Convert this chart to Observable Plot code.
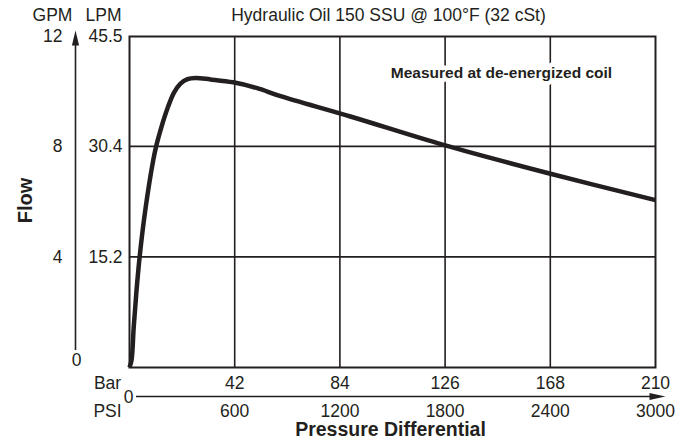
<!DOCTYPE html>
<html><head><meta charset="utf-8">
<script src="https://cdn.jsdelivr.net/npm/d3@7"></script>
<script src="https://cdn.jsdelivr.net/npm/@observablehq/plot@0.6"></script>
<style>
body{margin:0;background:#fff}
#chart svg{font-family:"Liberation Sans",Arial,Helvetica,sans-serif}
</style>
</head><body><div id="chart"></div>
<script>
// ---- data ----
const pressureBar = [0, 0.8, 1.68, 2.71, 3.99, 6.31, 9.5, 10.78, 12.77, 14.97, 17.76, 20.36, 23.15, 26.35, 32.3, 41.4, 51.0, 60.3, 88.2, 125.3, 167.3, 210];
const flowLpm     = [0, 0.97, 5.51, 10.2, 15.03, 21.65, 28.54, 30.6, 33.09, 35.43, 37.78, 39.02, 39.64, 39.8, 39.6, 39.2, 38.4, 37.3, 34.5, 30.6, 26.7, 23.0];
const barTicks = [42, 84, 126, 168, 210];
const psiTicks = [600, 1200, 1800, 2400, 3000];
const lpmTicks = [15.2, 30.4, 45.5];
const gpmTicks = [4, 8, 12];
const gpmMax = 12, lpmMax = 45.5, barMax = 210, psiMax = 3000;
const title = "Hydraulic Oil 150 SSU @ 100°F (32 cSt)";
const note = "Measured at de-energized coil";
const noteAt = {bar: 148.5, lpm: 40.5};

const ink = "#231f20";
const tickFont = 17.5;

const upHead = {draw(ctx){ ctx.moveTo(0,-7.5); ctx.lineTo(3.6,7.5); ctx.lineTo(-3.6,7.5); ctx.closePath(); }};
const rightHead = {draw(ctx){ ctx.moveTo(8,0); ctx.lineTo(-8,-3.6); ctx.lineTo(-8,3.6); ctx.closePath(); }};

const curve = pressureBar.map((p, i) => ({p, f: flowLpm[i]}));

const T = (extra) => Object.assign({fontSize: tickFont, fill: ink, textAnchor: "middle", lineAnchor: "middle"}, extra);

const chart = Plot.plot({
  width: 691, height: 440,
  marginLeft: 129, marginRight: 36, marginTop: 36, marginBottom: 73,
  x: {domain: [0, barMax], axis: null},
  y: {domain: [0, lpmMax], axis: null},
  style: {fontFamily: '"Liberation Sans", Arial, Helvetica, sans-serif', color: ink, background: "white"},
  marks: [
    Plot.ruleX(barTicks.slice(0, -1), {stroke: ink, strokeWidth: 1.6}),
    Plot.ruleY(lpmTicks.slice(0, -1), {stroke: ink, strokeWidth: 1.6}),
    Plot.text([note], T({x: () => noteAt.bar, y: () => noteAt.lpm, text: d => d, fontWeight: "bold", fontSize: 15.5, stroke: "white", strokeWidth: 9})),
    Plot.frame({stroke: ink, strokeWidth: 2}),
    Plot.line(curve, {x: "p", y: "f", stroke: ink, strokeWidth: 4.5, curve: "catmull-rom", strokeLinecap: "butt"}),
    // LPM labels
    Plot.text(lpmTicks, T({y: d => d, text: d => String(d), frameAnchor: "left", textAnchor: "end", dx: -7})),
    // GPM labels
    Plot.text(gpmTicks, T({y: d => d * lpmMax / gpmMax, text: d => String(d), frameAnchor: "left", textAnchor: "end", dx: -67})),
    Plot.text([0], T({text: d => String(d), frameAnchor: "bottom-left", dx: -53, dy: -7})),
    // headers
    Plot.text(["GPM"], T({text: d => d, frameAnchor: "top-left", dx: -77, dy: -21})),
    Plot.text(["LPM"], T({text: d => d, frameAnchor: "top-left", dx: -26, dy: -21})),
    Plot.text([title], T({text: d => d, frameAnchor: "top", dx: -4, dy: -21})),
    // vertical flow arrow
    Plot.ruleX([0], {dx: -54, insetTop: 8, insetBottom: 17, stroke: ink, strokeWidth: 1.6}),
    Plot.dot([0], {frameAnchor: "top-left", dx: -54, dy: 1.5, symbol: upHead, r: 4, fill: ink, stroke: "none"}),
    Plot.text(["Flow"], T({text: d => d, frameAnchor: "left", dx: -104, dy: -1.5, rotate: -90, fontWeight: "bold", fontSize: 20})),
    // horizontal pressure arrow
    Plot.ruleY([0], {dy: 29, insetLeft: 7, insetRight: -3, stroke: ink, strokeWidth: 1.6}),
    Plot.dot([0], {frameAnchor: "bottom-right", dx: 2, dy: 29, symbol: rightHead, r: 4, fill: ink, stroke: "none"}),
    Plot.text(barTicks, T({x: d => d, text: d => String(d), frameAnchor: "bottom", dy: 16})),
    Plot.text(psiTicks, T({x: d => d * barMax / psiMax, text: d => String(d), frameAnchor: "bottom", dy: 44})),
    Plot.text(["Bar"], T({text: d => d, frameAnchor: "bottom-left", dx: -22, dy: 16})),
    Plot.text(["PSI"], T({text: d => d, frameAnchor: "bottom-left", dx: -22, dy: 44})),
    Plot.text([0], T({text: d => String(d), frameAnchor: "bottom-left", dx: -1, dy: 30})),
    Plot.text(["Pressure Differential"], T({text: d => d, frameAnchor: "bottom", dx: -2, dy: 62.5, fontWeight: "bold", fontSize: 19.5}))
  ]
});
document.getElementById("chart").append(chart);
</script>
</body></html>
